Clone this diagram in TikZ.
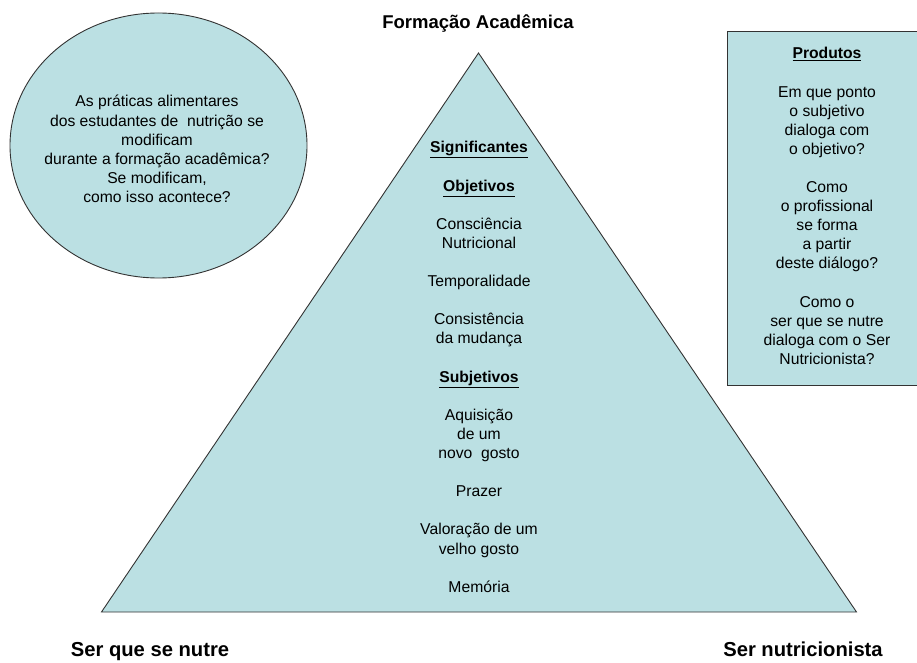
\documentclass[tikz,border=0pt]{standalone}
\usepackage{fontspec}
\setmainfont{Liberation Sans}
\usetikzlibrary{shapes.geometric}
\definecolor{shapefill}{HTML}{BBE0E3}
\definecolor{edgedark}{HTML}{333333}
\tikzset{
  body/.style={align=center, font=\fontsize{15.7}{19.1}\selectfont, inner sep=0pt},
  biglabel/.style={font=\fontsize{18.5}{22}\selectfont\bfseries, inner sep=0pt, anchor=base},
  bottomlabel/.style={font=\fontsize{20.2}{24}\selectfont\bfseries, inner sep=0pt, anchor=base},
  shapeedge/.style={draw=edgedark, line width=0.9pt, fill=shapefill}
}
\begin{document}
\begin{tikzpicture}[x=1pt,y=1pt]
\useasboundingbox (0,0) rectangle (917,662);
\clip (0,0) rectangle (917,662);
% pyramid
\coordinate (apex) at (478.5,609);
\coordinate (bl) at (101.5,50);
\coordinate (br) at (856.5,50);
\draw[shapeedge] (apex) -- (bl) -- (br) -- cycle;
% circle
\node[shapeedge, ellipse, minimum width=297, minimum height=265, inner sep=0pt] (q) at (158.5,516.5) {};
% products box
\node[shapeedge, rectangle, minimum width=210, minimum height=354, inner sep=0pt, anchor=north west] (prod) at (727,631) {};
% texts
\node[body] (qtext) at (157,513) {As práticas alimentares\\ dos estudantes de\ \ nutrição se\\ modificam\\ durante a formação acadêmica?\\ Se modificam,\\ como isso acontece?};
\node[body] (ptext) at (827,456) {\textbf{\underline{Produtos}}\\[19.1pt]
Em que ponto\\ o subjetivo\\ dialoga com\\ o objetivo?\\[19.1pt]
Como\\ o profissional\\ se forma\\ a partir\\ deste diálogo?\\[19.1pt]
Como o\\ ser que se nutre\\ dialoga com o Ser\\ Nutricionista?};
\node[body] (ttext) at (479,295) {\textbf{\underline{Significantes}}\\[19.1pt]
\textbf{\underline{Objetivos}}\\[19.1pt]
Consciência\\ Nutricional\\[19.1pt]
Temporalidade\\[19.1pt]
Consistência\\ da mudança\\[19.1pt]
\textbf{\underline{Subjetivos}}\\[19.1pt]
Aquisição\\ de um\\ novo\ \ gosto\\[19.1pt]
Prazer\\[19.1pt]
Valoração de um\\ velho gosto\\[19.1pt]
Memória};
\node[biglabel] (top) at (478,633) {Formação Acadêmica};
\node[bottomlabel] (left) at (150,6) {Ser que se nutre};
\node[bottomlabel] (right) at (803,6) {Ser nutricionista};
\end{tikzpicture}
\end{document}
